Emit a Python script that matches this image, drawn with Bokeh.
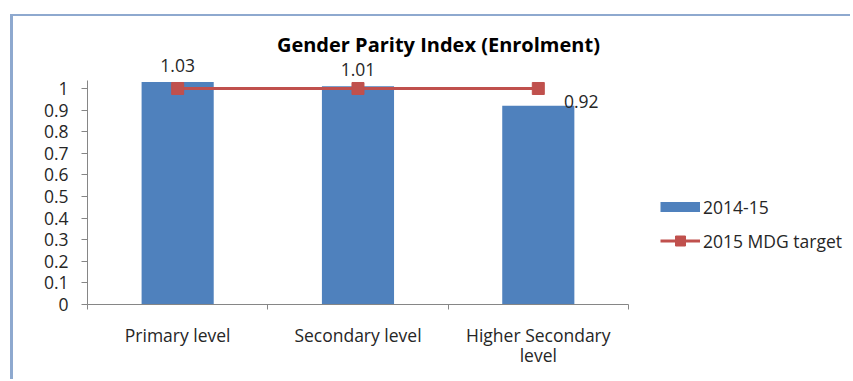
from bokeh.plotting import figure
from bokeh.models import (ColumnDataSource, FixedTicker, Label, Legend, LegendItem,
                          Range1d)
from bokeh.embed import file_html
from bokeh.resources import INLINE

# Gender Parity Index by level of education
categories = ["Primary level", "Secondary level", "Higher Secondary\nlevel"]
gpi_2014_15 = [1.03, 1.01, 0.92]
mdg_target_2015 = [1.0, 1.0, 1.0]
y_ticks = [0, 0.1, 0.2, 0.3, 0.4, 0.5, 0.6, 0.7, 0.8, 0.9, 1]

FONT = "Open Sans"
FS = "17.5px"
BAR = "#4F81BD"
RED = "#C0504D"
AXIS = "#868686"
TEXT = "#262626"

n = len(categories)
xs = [i + 0.5 for i in range(n)]
src = ColumnDataSource(dict(x=xs, gpi=gpi_2014_15, target=mdg_target_2015))

# the frame runs to the top/right edge so labels, title and legend are not clipped;
# the axes themselves are bounded to the plotting area
p = figure(width=840, height=365, output_backend="svg", toolbar_location=None,
           x_range=Range1d(0, 4.248), y_range=Range1d(0, 1.3333),
           min_border_left=74, min_border_right=0, min_border_top=0,
           min_border_bottom=77)
p.margin = (14, 0, 0, 10)
p.styles = {"border-left": "3px solid #8EA9CF", "border-top": "2px solid #8EA9CF"}
p.outline_line_color = None
p.grid.visible = False
p.background_fill_color = "white"
p.border_fill_color = "white"

bars = p.vbar(x="x", top="gpi", width=0.4, source=src, fill_color=BAR, line_color=None)
line = p.line(x="x", y="target", source=src, line_color=RED, line_width=3)
marks = p.scatter(x="x", y="target", source=src, marker="square", size=12,
                  fill_color=RED, line_color=RED)
# legend swatch for the bars: a thick blue stroke that draws nothing in the plot
bar_key = p.line(x=xs, y=[float("nan")] * n, line_color=BAR, line_width=10)

# x axis: category names centred, boundary ticks between them
xa = p.xaxis[0]
xa.bounds = (0, n)
xa.ticker = FixedTicker(ticks=xs, minor_ticks=list(range(n + 1)))
xa.major_label_overrides = {x: c for x, c in zip(xs, categories)}
xa.major_tick_line_color = None
xa.minor_tick_line_color = AXIS
xa.minor_tick_out = 5
xa.minor_tick_in = 0
xa.axis_line_color = AXIS
xa.major_label_standoff = 12
xa.major_label_text_font = FONT
xa.major_label_text_font_size = FS
xa.major_label_text_color = TEXT
xa.major_label_text_line_height = 0.85

ya = p.yaxis[0]
ya.bounds = (0, 1.037)
ya.ticker = FixedTicker(ticks=y_ticks, minor_ticks=[])
ya.major_label_overrides = {t: f"{t:g}" for t in y_ticks}
ya.axis_line_color = AXIS
ya.major_tick_line_color = AXIS
ya.major_tick_out = 6
ya.major_tick_in = 0
ya.major_label_standoff = 13
ya.major_label_text_font = FONT
ya.major_label_text_font_size = FS
ya.major_label_text_color = TEXT

# value labels
for i, (x, v) in enumerate(zip(xs, gpi_2014_15)):
    if i < n - 1:
        lab = Label(x=x, y=v, text=f"{v:.2f}", text_align="center",
                    text_baseline="bottom", y_offset=10)
    else:
        lab = Label(x=x, y=v, text=f"{v:.2f}", text_align="center",
                    text_baseline="middle", x_offset=43, y_offset=4)
    lab.text_font = FONT
    lab.text_font_size = FS
    lab.text_color = TEXT
    p.add_layout(lab)

p.add_layout(Label(x=1.946, y=1.204, text="Gender Parity Index (Enrolment)",
                   text_align="center", text_baseline="middle", text_font=FONT,
                   text_font_size="20px", text_font_style="bold",
                   text_color="#000000"))

legend = Legend(items=[LegendItem(label="2014-15", renderers=[bar_key]),
                       LegendItem(label="2015 MDG target", renderers=[line, marks])],
                location=(573, 51), orientation="vertical")
legend.glyph_width = 40
legend.glyph_height = 25
legend.label_height = 20
legend.spacing = 9
legend.label_standoff = 3
legend.padding = 0
legend.margin = 0
legend.border_line_color = None
legend.background_fill_alpha = 0
legend.label_text_font = FONT
legend.label_text_font_size = FS
legend.label_text_color = TEXT
p.add_layout(legend, "center")

open("out.html", "w").write(file_html(p, INLINE))
